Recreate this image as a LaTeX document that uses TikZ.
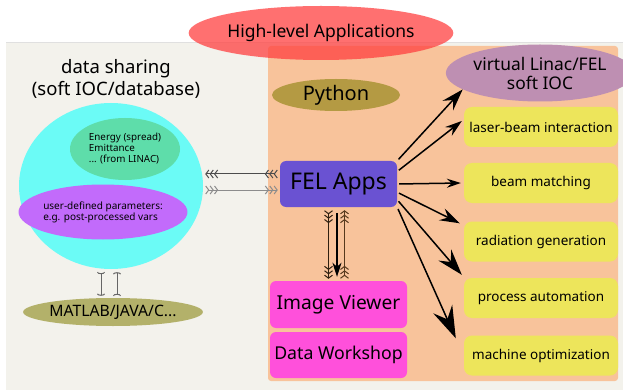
\documentclass[tikz,border=0pt]{standalone}
\usepackage{fontspec}
\setmainfont{Noto Sans}
\usetikzlibrary{shapes.geometric, arrows.meta, calc}

\definecolor{bgbeige}{HTML}{F3F2EC}
\definecolor{pyorange}{HTML}{F8C39B}
\definecolor{hlred}{HTML}{FF4040}
\definecolor{sharecyan}{HTML}{6BFBF6}
\definecolor{linacgreen}{HTML}{5EDDAA}
\definecolor{userpurple}{HTML}{C26BFB}
\definecolor{matolive}{HTML}{B3B16A}
\definecolor{pygold}{HTML}{B49A43}
\definecolor{felviolet}{HTML}{6A52D2}
\definecolor{viewpink}{HTML}{FF50DB}
\definecolor{virtmauve}{HTML}{BE8FB2}
\definecolor{taskyellow}{HTML}{EDE55B}

\newcommand{\fs}[2]{\fontsize{#1}{#2}\selectfont}

\tikzset{
  chevf/.tip={Straight Barb[length=3pt,width=8pt,sep=.3pt] Straight Barb[length=3pt,width=8pt,sep=.3pt] Straight Barb[length=3pt,width=8pt]},
  chevb/.tip={Straight Barb[reversed,length=3pt,width=8pt,sep=.3pt] Straight Barb[reversed,length=3pt,width=8pt,sep=.3pt] Straight Barb[reversed,length=3pt,width=8pt]}
}

\begin{document}
\begin{tikzpicture}[
    x=1pt, y=-1pt,
    blob/.style={ellipse, inner sep=0pt, text=black},
    appbox/.style={rectangle, rounded corners=6pt, inner sep=0pt, fill=viewpink, minimum width=137pt, minimum height=46pt},
    task/.style={rectangle, rounded corners=8pt, inner sep=0pt, fill=taskyellow, minimum width=154pt, minimum height=40pt, font=\fs{13.5}{16}},
    link/.style={{chevb}-{chevf}, line width=1pt},
    swap/.style={{Arc Barb[reversed,length=2pt,width=8pt]}-{Arc Barb[length=2pt,width=8pt]}, line width=1pt, gray!80!black},
    fan/.style={-{Stealth[length=#1, width=0.65*#1, inset=0.35*#1]}, line width=1.5pt, shorten <=2pt}
  ]
  \useasboundingbox (0,0) rectangle (623,390);

  % panels
  \fill[bgbeige] (6,42) rectangle (623,390);
  \draw[black!12, line width=.8pt] (6,42) -- (623,42);
  \fill[pyorange, rounded corners=3pt] (268,46) rectangle (618,381);

  \node[blob, fill=hlred, fill opacity=.75, text opacity=1, minimum width=200pt, minimum height=54pt, font=\fs{17.5}{20}] (hla) at (321,33) {High-level Applications};

  % data sharing side
  \node[align=center, font=\fs{18.5}{22}] (dstitle) at (116,79) {data sharing\\(soft IOC/database)};
  \node[blob, fill=sharecyan, minimum width=184pt, minimum height=166pt] (share) at (111,186) {};
  \node[blob, fill=linacgreen, minimum width=110pt, minimum height=62pt, align=left, font=\fs{9.8}{11}] (linac) at (125,149) {Energy (spread)\\Emittance\\... (from LINAC)};
  \node[blob, fill=userpurple, minimum width=134pt, minimum height=55pt, align=left, font=\fs{10}{11}] (user) at (103,212) {user-defined parameters:\\e.g. post-processed vars};
  \node[blob, fill=matolive, minimum width=171pt, minimum height=28pt, font=\fs{15.7}{18}] (matlab) at (113,312) {MATLAB/JAVA/C...};

  % python side
  \node[blob, fill=pygold, minimum width=128pt, minimum height=32pt, font=\fs{20}{23}] (python) at (336,95) {Python};
  \node[rectangle, rounded corners=6pt, fill=felviolet, minimum width=117pt, minimum height=46pt, inner sep=0pt, font=\fs{23}{26}] (fel) at (338.5,184) {FEL Apps};
  \node[appbox, minimum height=47pt, font=\fs{19.2}{22}] (viewer) at (338.5,304.5) {Image Viewer};
  \node[appbox, font=\fs{17.7}{20}] (workshop) at (338.5,355) {Data Workshop};

  \node[blob, fill=virtmauve, minimum width=166pt, minimum height=57pt, align=center, font=\fs{17.4}{19}] (virt) at (540,73) {virtual Linac/FEL\\soft IOC};
  \node[task] (laser) at (541,127) {laser-beam interaction};
  \node[task] (beam) at (541,183) {beam matching};
  \node[task] (rad) at (541,241.5) {radiation generation};
  \node[task] (proc) at (541,298) {process automation};
  \node[task] (mach) at (541,355.5) {machine optimization};

  % exchange with the data sharing layer
  \draw[link, black!70] ([yshift=10pt,xshift=-2pt]fel.west) -- ([yshift=10pt,xshift=2pt]fel.west -| share.east);
  \draw[link, black!45] ([yshift=-6pt,xshift=2pt]fel.west -| share.east) -- ([yshift=-6pt,xshift=-2pt]fel.west);
  \draw[swap] ([xshift=-10pt,yshift=-3pt]share.south) -- ([xshift=-10pt,yshift=2pt]share.south |- matlab.north);
  \draw[swap] ([xshift=6pt,yshift=2pt]share.south |- matlab.north) -- ([xshift=6pt,yshift=-3pt]share.south);

  % FEL Apps to image viewer
  \draw[link, black!75!brown] ([xshift=-10pt,yshift=-3pt]fel.south) -- ([xshift=-10pt,yshift=2pt]viewer.north);
  \draw[link, black!55!brown] ([xshift=6pt,yshift=2pt]viewer.north) -- ([xshift=6pt,yshift=-3pt]fel.south);
  \draw[-{Stealth[length=14pt,width=9pt,inset=4pt]}, line width=1.3pt] ([xshift=-1.5pt,yshift=-6pt]fel.south) -- ([xshift=-1.5pt,yshift=4pt]viewer.north);

  % FEL Apps fan-out
  \draw[fan=22pt] (fel.north east) -- (virt.192);
  \draw[fan=17pt] (fel.12) -- ([xshift=-2pt,yshift=6pt]laser.west);
  \draw[fan=14pt] (fel.east) -- ([xshift=-3pt]beam.west);
  \draw[fan=20pt] (fel.-8) -- ([xshift=-4pt,yshift=-2pt]rad.north west);
  \draw[fan=26pt] (fel.-15) -- ([xshift=-2pt,yshift=3pt]proc.north west);
  \draw[fan=32pt] (fel.south east) -- ([xshift=-8pt,yshift=-3pt]mach.north west);
\end{tikzpicture}
\end{document}
